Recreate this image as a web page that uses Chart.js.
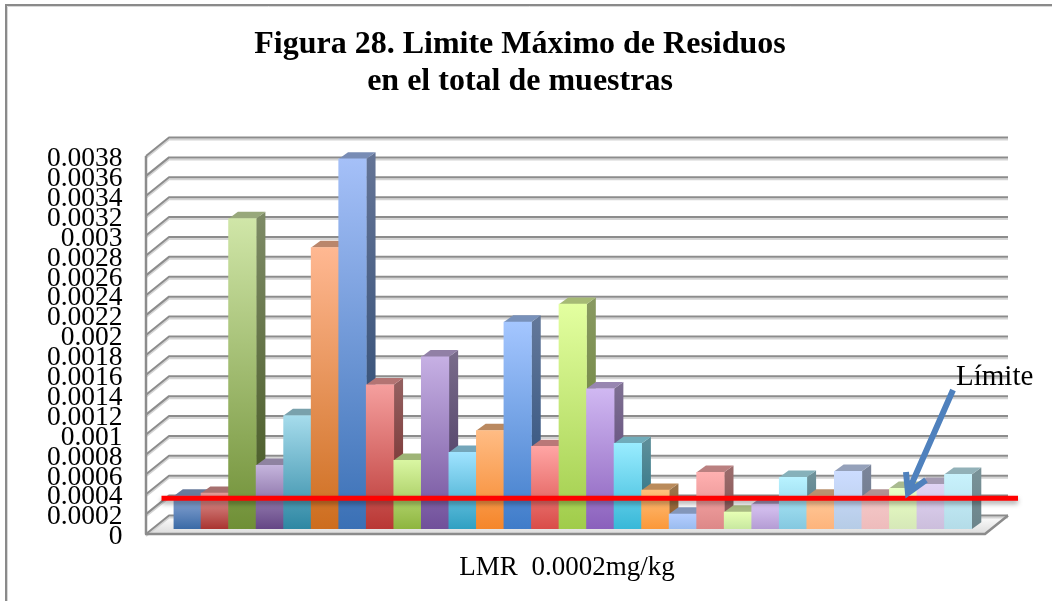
<!DOCTYPE html>
<html>
<head>
<meta charset="utf-8">
<title>Figura 28</title>
<script src="https://cdn.jsdelivr.net/npm/chart.js@4/dist/chart.umd.min.js"></script>
<style>
  html, body { margin: 0; padding: 0; background: #fff; }
  #wrap { position: relative; width: 1052px; height: 601px; }
</style>
</head>
<body>
<div id="wrap"><canvas id="grafica" width="1052" height="601"></canvas></div>
<script>
// datos
const muestras = [];
for (let i = 1; i <= 29; i++) muestras.push('M' + i);
const residuos = [0.00033, 0.00036, 0.00312, 0.00064, 0.00114, 0.00283, 0.00372, 0.00145, 0.00069, 0.00173,
  0.00077, 0.00099, 0.00208, 0.00083, 0.00226, 0.00141, 0.00086, 0.00039, 0.00015, 0.00057,
  0.00017, 0.00025, 0.00052, 0.00033, 0.00058, 0.00033, 0.00041, 0.00045, 0.00055];
const limite = 0.00036;
const rotuloEjeX = 'LMR  0.0002mg/kg';
const rotuloLimite = 'Límite';

// colores de cada barra: arriba y abajo del degradado
const colorArriba = ['#8fa9d6', '#e39a98', '#d0e6a8', '#c4b4dc', '#a6dcec', '#ffb892', '#a5c0f8', '#f59f9e', '#d9f6a2', '#c6b0e4',
  '#9fe3ff', '#ffbc84', '#a4c6ff', '#ffa5a4', '#e3ffa0', '#d0b8f2', '#99ecff', '#ffbf7c', '#b4cdff', '#ffb0b0',
  '#e6ffb4', '#d8c4f2', '#b8f2ff', '#ffc898', '#ccdcff', '#f4c8c8', '#e8ffc4', '#e0d4f4', '#c8f2fc'];
const colorAbajo = ['#3a6aa6', '#a93430', '#6f8f36', '#654685', '#2e87a3', '#cd6d1e', '#3a70b5', '#b93734', '#8eb53f', '#70509a',
  '#30a0c2', '#f5862a', '#3f7cc9', '#d94c48', '#a0cc4a', '#8a60bc', '#38b8d8', '#fb9838', '#9abcef', '#dd8888',
  '#c8e8a0', '#b49cd4', '#84c8e0', '#fdb47c', '#b6cce6', '#eebcbc', '#d6e8b8', '#ccbedc', '#b4dce8'];

// medidas del efecto 3D
const fondoX = 23, fondoY = 18.5;
const caraX = 9.3, caraY = 6.8;
const subeBarra = 5;
const margenPared = 27.5;

function oscurecer(hex, f) {
  const n = parseInt(hex.slice(1), 16);
  const r = Math.round((n >> 16) * f), g = Math.round(((n >> 8) & 255) * f), b = Math.round((n & 255) * f);
  return `rgb(${r},${g},${b})`;
}

function poligono(ctx, puntos) {
  ctx.beginPath();
  puntos.forEach((p, i) => i ? ctx.lineTo(p[0], p[1]) : ctx.moveTo(p[0], p[1]));
  ctx.closePath();
}

const grafico3D = {
  id: 'grafico3D',
  beforeDraw(chart) {
    const ctx = chart.ctx;
    const area = chart.chartArea;
    const y = chart.scales.y;
    const izq = area.left - margenPared;
    const der = area.right + 13;
    const base = area.bottom;

    // marco de la imagen
    ctx.save();
    ctx.strokeStyle = '#d8d8d8';
    ctx.lineWidth = 1;
    ctx.beginPath();
    ctx.moveTo(7.5, 601); ctx.lineTo(7.5, 6.5); ctx.lineTo(1052, 6.5);
    ctx.stroke();
    ctx.strokeStyle = '#8a8a8a';
    ctx.lineWidth = 2;
    ctx.beginPath();
    ctx.moveTo(6, 601); ctx.lineTo(6, 5); ctx.lineTo(1052, 5);
    ctx.stroke();

    // suelo
    poligono(ctx, [[izq, base], [der, base], [der + fondoX, base - fondoY], [izq + fondoX, base - fondoY]]);
    const suelo = ctx.createLinearGradient(0, base - fondoY, 0, base);
    suelo.addColorStop(0, '#ffffff');
    suelo.addColorStop(1, '#dcdcdc');
    ctx.fillStyle = suelo;
    ctx.fill();

    // pared del fondo, una linea por cada marca de la escala
    ctx.lineJoin = 'round';
    y.ticks.forEach((t, i) => {
      const py = y.getPixelForTick(i);
      ctx.strokeStyle = '#d4d4d4';
      ctx.lineWidth = 2;
      ctx.beginPath();
      ctx.moveTo(izq, py + 2); ctx.lineTo(izq + fondoX, py - fondoY + 2); ctx.lineTo(der + fondoX, py - fondoY + 2);
      ctx.stroke();
      ctx.strokeStyle = '#8c8c8c';
      ctx.beginPath();
      ctx.moveTo(izq, py); ctx.lineTo(izq + fondoX, py - fondoY); ctx.lineTo(der + fondoX, py - fondoY);
      ctx.stroke();
    });
    // borde delantero del suelo y eje
    ctx.strokeStyle = '#8c8c8c';
    ctx.lineWidth = 2.5;
    ctx.beginPath();
    ctx.moveTo(izq, y.getPixelForValue(y.max)); ctx.lineTo(izq, base); ctx.lineTo(der, base); ctx.lineTo(der + fondoX, base - fondoY);
    ctx.stroke();
    ctx.restore();
  },
  beforeDatasetsDraw(chart) {
    const ctx = chart.ctx;
    const barras = chart.getDatasetMeta(0).data;
    const base = chart.chartArea.bottom;
    ctx.save();
    ctx.translate(0, -subeBarra);
    // caras lateral y superior, por detras de las caras frontales
    barras.forEach((b, i) => {
      const d = b.getProps(['x', 'y', 'width']);
      const x0 = d.x - d.width / 2, x1 = d.x + d.width / 2;
      poligono(ctx, [[x1, d.y], [x1 + caraX, d.y - caraY], [x1 + caraX, base - caraY], [x1, base]]);
      const lado = ctx.createLinearGradient(0, d.y, 0, base);
      lado.addColorStop(0, oscurecer(colorArriba[i], 0.6));
      lado.addColorStop(1, oscurecer(colorAbajo[i], 0.6));
      ctx.fillStyle = lado;
      ctx.fill();
      poligono(ctx, [[x0, d.y], [x1, d.y], [x1 + caraX, d.y - caraY], [x0 + caraX, d.y - caraY]]);
      ctx.fillStyle = oscurecer(colorArriba[i], 0.73);
      ctx.fill();
    });
    // queda trasladado para las caras frontales
  },
  afterDatasetsDraw(chart) {
    const ctx = chart.ctx;
    const area = chart.chartArea;
    const py = chart.scales.y.getPixelForValue(limite);
    ctx.restore();

    // linea del limite
    ctx.save();
    ctx.shadowColor = 'rgba(0,0,0,0.35)';
    ctx.shadowBlur = 5;
    ctx.shadowOffsetY = 3;
    ctx.strokeStyle = '#ff0000';
    ctx.lineWidth = 5;
    ctx.beginPath();
    ctx.moveTo(area.left - 12, py);
    ctx.lineTo(area.right + 46, py);
    ctx.stroke();
    ctx.restore();

    // flecha y rotulos
    ctx.save();
    ctx.strokeStyle = '#4f81bd';
    ctx.lineWidth = 6;
    ctx.beginPath();
    ctx.moveTo(953, 390); ctx.lineTo(909, 490);
    ctx.moveTo(906, 472); ctx.lineTo(908, 493); ctx.lineTo(926, 480);
    ctx.stroke();
    ctx.fillStyle = '#000';
    ctx.font = '29px "Liberation Serif"';
    ctx.textBaseline = 'alphabetic';
    ctx.textAlign = 'left';
    ctx.fillText(rotuloLimite, 956, 385);
    ctx.font = '27px "Liberation Serif"';
    ctx.textAlign = 'center';
    ctx.fillText(rotuloEjeX, 567, 575);
    ctx.restore();
  }
};

new Chart(document.getElementById('grafica'), {
  type: 'bar',
  data: {
    labels: muestras,
    datasets: [{
      data: residuos,
      barPercentage: 1,
      categoryPercentage: 1,
      backgroundColor(c) {
        const { chartArea, ctx, scales } = c.chart;
        if (!chartArea || c.raw === undefined) return colorAbajo[c.dataIndex] || '#000';
        const g = ctx.createLinearGradient(0, scales.y.getPixelForValue(c.raw), 0, chartArea.bottom);
        g.addColorStop(0, colorArriba[c.dataIndex]);
        g.addColorStop(1, colorAbajo[c.dataIndex]);
        return g;
      }
    }]
  },
  options: {
    responsive: false,
    animation: false,
    layout: { padding: { left: 44, right: 56, top: 26, bottom: 59 } },
    plugins: {
      legend: { display: false },
      tooltip: { enabled: false },
      title: {
        display: true,
        text: ['Figura 28. Limite Máximo de Residuos', 'en el total de muestras'],
        color: '#000',
        font: { family: '"Liberation Serif"', size: 32, weight: 'bold', lineHeight: 1.156 },
        padding: { top: 0, bottom: 56 }
      }
    },
    scales: {
      x: {
        grid: { display: false },
        border: { display: false },
        ticks: { display: false }
      },
      y: {
        min: 0,
        max: 0.0038,
        grid: { display: false },
        border: { display: false },
        afterFit(s) { s.width = 129.5; },
        ticks: {
          stepSize: 0.0002,
          autoSkip: false,
          padding: 43,
          labelOffset: 3,
          color: '#000',
          font: { family: '"Liberation Serif"', size: 27.5 },
          callback: v => String(+v.toFixed(4))
        }
      },
      margenDerecho: {
        position: 'right',
        grid: { display: false },
        border: { display: false },
        ticks: { display: false },
        afterFit(s) { s.width = 24; }
      }
    }
  },
  plugins: [grafico3D]
});
</script>
</body>
</html>
